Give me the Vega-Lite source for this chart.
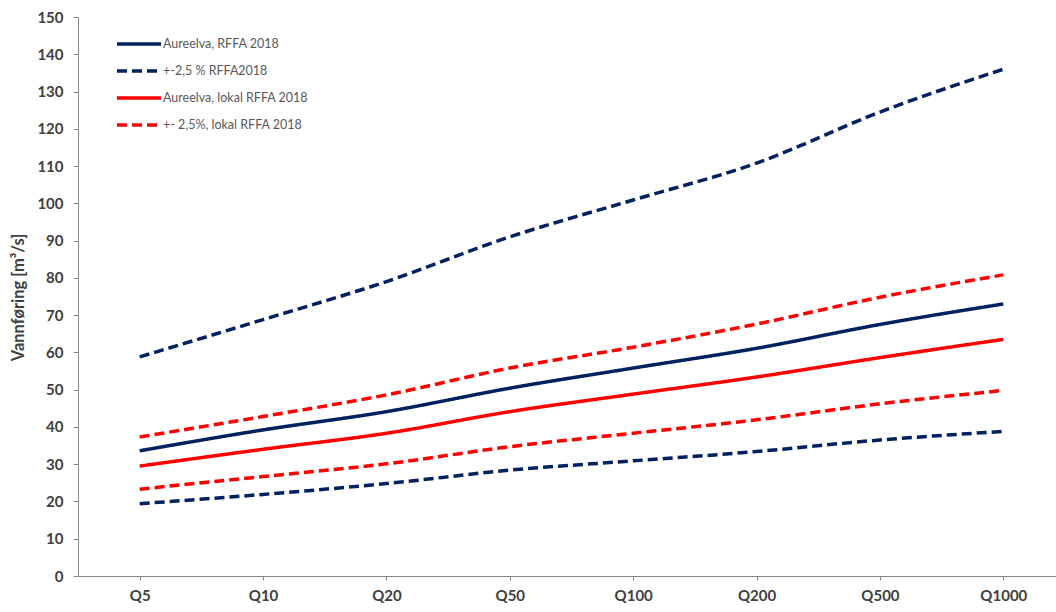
{
  "$schema": "https://vega.github.io/schema/vega-lite/v6.json",
  "width": 987,
  "height": 559,
  "autosize": {"type": "none"},
  "padding": {"left": 78, "top": 17, "right": 0, "bottom": 36},
  "background": "white",
  "config": {"view": {"stroke": null}, "font": "Lato"},
  "data": {
    "values": [
      {"q": "Q5", "series": "Aureelva, RFFA 2018", "line": "a", "v": 33.6},
      {"q": "Q10", "series": "Aureelva, RFFA 2018", "line": "a", "v": 39.2},
      {"q": "Q20", "series": "Aureelva, RFFA 2018", "line": "a", "v": 44.1},
      {"q": "Q50", "series": "Aureelva, RFFA 2018", "line": "a", "v": 50.4},
      {"q": "Q100", "series": "Aureelva, RFFA 2018", "line": "a", "v": 55.8},
      {"q": "Q200", "series": "Aureelva, RFFA 2018", "line": "a", "v": 61.1},
      {"q": "Q500", "series": "Aureelva, RFFA 2018", "line": "a", "v": 67.5},
      {"q": "Q1000", "series": "Aureelva, RFFA 2018", "line": "a", "v": 73.0},
      {"q": "Q5", "series": "+-2,5 % RFFA2018", "line": "b_up", "v": 58.8},
      {"q": "Q10", "series": "+-2,5 % RFFA2018", "line": "b_up", "v": 68.8},
      {"q": "Q20", "series": "+-2,5 % RFFA2018", "line": "b_up", "v": 79.0},
      {"q": "Q50", "series": "+-2,5 % RFFA2018", "line": "b_up", "v": 91.0},
      {"q": "Q100", "series": "+-2,5 % RFFA2018", "line": "b_up", "v": 100.9},
      {"q": "Q200", "series": "+-2,5 % RFFA2018", "line": "b_up", "v": 110.8},
      {"q": "Q500", "series": "+-2,5 % RFFA2018", "line": "b_up", "v": 124.5},
      {"q": "Q1000", "series": "+-2,5 % RFFA2018", "line": "b_up", "v": 136.0},
      {"q": "Q5", "series": "+-2,5 % RFFA2018", "line": "b_lo", "v": 19.4},
      {"q": "Q10", "series": "+-2,5 % RFFA2018", "line": "b_lo", "v": 21.9},
      {"q": "Q20", "series": "+-2,5 % RFFA2018", "line": "b_lo", "v": 24.8},
      {"q": "Q50", "series": "+-2,5 % RFFA2018", "line": "b_lo", "v": 28.4},
      {"q": "Q100", "series": "+-2,5 % RFFA2018", "line": "b_lo", "v": 30.9},
      {"q": "Q200", "series": "+-2,5 % RFFA2018", "line": "b_lo", "v": 33.4},
      {"q": "Q500", "series": "+-2,5 % RFFA2018", "line": "b_lo", "v": 36.5},
      {"q": "Q1000", "series": "+-2,5 % RFFA2018", "line": "b_lo", "v": 38.8},
      {"q": "Q5", "series": "Aureelva, lokal RFFA 2018", "line": "c", "v": 29.5},
      {"q": "Q10", "series": "Aureelva, lokal RFFA 2018", "line": "c", "v": 34.0},
      {"q": "Q20", "series": "Aureelva, lokal RFFA 2018", "line": "c", "v": 38.3},
      {"q": "Q50", "series": "Aureelva, lokal RFFA 2018", "line": "c", "v": 44.1},
      {"q": "Q100", "series": "Aureelva, lokal RFFA 2018", "line": "c", "v": 48.8},
      {"q": "Q200", "series": "Aureelva, lokal RFFA 2018", "line": "c", "v": 53.4},
      {"q": "Q500", "series": "Aureelva, lokal RFFA 2018", "line": "c", "v": 58.6},
      {"q": "Q1000", "series": "Aureelva, lokal RFFA 2018", "line": "c", "v": 63.5},
      {"q": "Q5", "series": "+- 2,5%, lokal RFFA 2018", "line": "d_up", "v": 37.3},
      {"q": "Q10", "series": "+- 2,5%, lokal RFFA 2018", "line": "d_up", "v": 42.8},
      {"q": "Q20", "series": "+- 2,5%, lokal RFFA 2018", "line": "d_up", "v": 48.6},
      {"q": "Q50", "series": "+- 2,5%, lokal RFFA 2018", "line": "d_up", "v": 55.8},
      {"q": "Q100", "series": "+- 2,5%, lokal RFFA 2018", "line": "d_up", "v": 61.4},
      {"q": "Q200", "series": "+- 2,5%, lokal RFFA 2018", "line": "d_up", "v": 67.6},
      {"q": "Q500", "series": "+- 2,5%, lokal RFFA 2018", "line": "d_up", "v": 74.8},
      {"q": "Q1000", "series": "+- 2,5%, lokal RFFA 2018", "line": "d_up", "v": 80.8},
      {"q": "Q5", "series": "+- 2,5%, lokal RFFA 2018", "line": "d_lo", "v": 23.3},
      {"q": "Q10", "series": "+- 2,5%, lokal RFFA 2018", "line": "d_lo", "v": 26.7},
      {"q": "Q20", "series": "+- 2,5%, lokal RFFA 2018", "line": "d_lo", "v": 30.1},
      {"q": "Q50", "series": "+- 2,5%, lokal RFFA 2018", "line": "d_lo", "v": 34.7},
      {"q": "Q100", "series": "+- 2,5%, lokal RFFA 2018", "line": "d_lo", "v": 38.3},
      {"q": "Q200", "series": "+- 2,5%, lokal RFFA 2018", "line": "d_lo", "v": 41.9},
      {"q": "Q500", "series": "+- 2,5%, lokal RFFA 2018", "line": "d_lo", "v": 46.2},
      {"q": "Q1000", "series": "+- 2,5%, lokal RFFA 2018", "line": "d_lo", "v": 49.8}
    ]
  },
  "mark": {"type": "line", "strokeWidth": 3.5, "interpolate": "monotone"},
  "encoding": {
    "x": {
      "field": "q",
      "type": "ordinal",
      "sort": ["Q5", "Q10", "Q20", "Q50", "Q100", "Q200", "Q500", "Q1000"],
      "scale": {"type": "point", "padding": 0.5},
      "axis": {
        "title": null,
        "labelAngle": 0,
        "labelFontSize": 15,
        "labelFontWeight": "bold",
        "labelColor": "#404040",
        "labelPadding": 8,
        "tickSize": 4,
        "tickColor": "#868686",
        "domainColor": "#868686",
        "grid": false
      }
    },
    "y": {
      "field": "v",
      "type": "quantitative",
      "scale": {"domain": [0, 150], "nice": false},
      "axis": {
        "values": [0, 10, 20, 30, 40, 50, 60, 70, 80, 90, 100, 110, 120, 130, 140, 150],
        "title": "Vannføring [m³/s]",
        "titleFontSize": 16.5,
        "titleFontWeight": "bold",
        "titleColor": "#404040",
        "titleX": -60,
        "titleY": 280,
        "titleBaseline": "middle",
        "titleAngle": -90,
        "labelFontSize": 15,
        "labelFontWeight": "bold",
        "labelColor": "#404040",
        "labelPadding": 10,
        "tickSize": 5,
        "tickColor": "#868686",
        "domainColor": "#868686",
        "grid": false
      }
    },
    "color": {
      "field": "series",
      "type": "nominal",
      "scale": {
        "domain": ["Aureelva, RFFA 2018", "+-2,5 % RFFA2018", "Aureelva, lokal RFFA 2018", "+- 2,5%, lokal RFFA 2018"],
        "range": ["#002060", "#002060", "#FF0000", "#FF0000"]
      },
      "legend": {
        "orient": "none",
        "legendX": 37,
        "legendY": 20,
        "title": null,
        "padding": 0,
        "symbolType": "stroke",
        "symbolSize": 1936,
        "symbolStrokeWidth": 3.5,
        "labelFontSize": 12.5,
        "labelColor": "#595959",
        "labelOffset": 0,
        "clipHeight": 14,
        "rowPadding": 13
      }
    },
    "strokeDash": {
      "field": "series",
      "type": "nominal",
      "scale": {
        "domain": ["Aureelva, RFFA 2018", "+-2,5 % RFFA2018", "Aureelva, lokal RFFA 2018", "+- 2,5%, lokal RFFA 2018"],
        "range": [[1, 0], [10, 5], [1, 0], [10, 5]]
      }
    },
    "detail": {"field": "line", "type": "nominal"}
  }
}
